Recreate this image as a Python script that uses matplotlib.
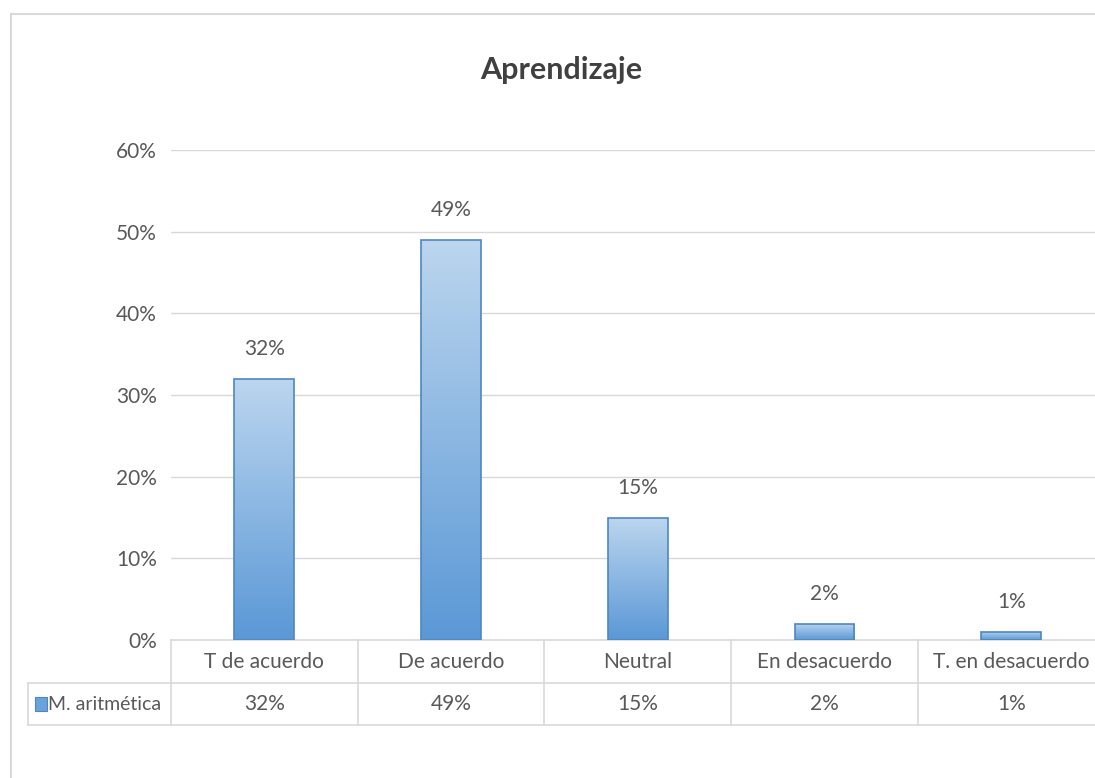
import numpy as np
import matplotlib
matplotlib.use("Agg")
import matplotlib.pyplot as plt
from matplotlib.patches import Rectangle
from matplotlib.lines import Line2D
from matplotlib.colors import LinearSegmentedColormap

categories = ['T de acuerdo', 'De acuerdo', 'Neutral', 'En desacuerdo', 'T. en desacuerdo']
values = [0.32, 0.49, 0.15, 0.02, 0.01]
series_name = 'M. aritmética'
yticks = [0, 0.1, 0.2, 0.3, 0.4, 0.5, 0.6]

plt.rcParams['font.family'] = ['Lato', 'DejaVu Sans']
txt = '#595959'
grid_c = '#d9d9d9'
fs = 15

W, H = 1095, 778
fig = plt.figure(figsize=(W / 100, H / 100), dpi=100)

# outer chart border (only top and left are inside the picture)
fig.lines.append(Line2D([11 / W, 1.05], [1 - 14 / H, 1 - 14 / H], transform=fig.transFigure,
                        color='#d9d9d9', lw=1.5))
fig.lines.append(Line2D([11 / W, 11 / W], [-0.05, 1 - 14 / H], transform=fig.transFigure,
                        color='#d9d9d9', lw=1.5))

# plot area: x from 171 px, one category = 186.7 px; y from 640 (0%) to 150 (60%)
x0, cw = 171, 186.7
ax = fig.add_axes([x0 / W, (H - 640) / H, 5 * cw / W, 490 / H])
ax.patch.set_alpha(0)
for s in ax.spines.values():
    s.set_visible(False)
ax.set_xticks([])
ax.set_yticks(yticks)
ax.set_yticklabels(['%d%%' % round(t * 100) for t in yticks], color=txt, fontsize=fs)
ax.tick_params(axis='y', length=0, pad=10)
for t in yticks[1:]:
    ax.axhline(t, color=grid_c, lw=1, zorder=0)

cmap = LinearSegmentedColormap.from_list('g', ['#5a98d6', '#bcd6ee'])
grad = np.linspace(0, 1, 256).reshape(-1, 1)
bw = 0.32
for i, v in enumerate(values):
    r = Rectangle((i - bw / 2, 0), bw, v, facecolor='none', edgecolor='#4f86c0', lw=1.2, zorder=3)
    ax.add_patch(r)
    im = ax.imshow(grad, cmap=cmap, origin='lower', aspect='auto',
                   extent=(i - bw / 2, i + bw / 2, 0, v), zorder=2)
    im.set_clip_path(r)
    ax.text(i, v + 0.024, '%d%%' % round(v * 100), ha='center', va='bottom',
            fontsize=fs, color=txt)

ax.set_xlim(-0.5, 4.5)
ax.set_ylim(0, 0.6)

# data table under the plot
px = 0.6 / 490
r1, r2 = -43 * px, -85 * px
xl = -0.5 - (171 - 28) / cw
kw = dict(color=grid_c, lw=1.2, clip_on=False, zorder=1)
ax.plot([-0.5, 4.6], [0, 0], **kw)
ax.plot([xl, 4.6], [r1, r1], **kw)
ax.plot([xl, 4.6], [r2, r2], **kw)
ax.plot([xl, xl], [r1, r2], **kw)
for b in range(5):
    ax.plot([b - 0.5, b - 0.5], [0, r2], **kw)
for i, (c, v) in enumerate(zip(categories, values)):
    ax.text(i, r1 / 2, c, ha='center', va='center', fontsize=fs, color=txt, clip_on=False)
    ax.text(i, (r1 + r2) / 2, '%d%%' % round(v * 100), ha='center', va='center',
            fontsize=fs, color=txt, clip_on=False)
ax.add_patch(Rectangle((xl + 0.035, (r1 + r2) / 2 - 0.009), 0.065, 0.018,
                       facecolor='#6aa3db', edgecolor='#4f86c0', lw=0.8, clip_on=False))
ax.text(xl + 0.105, (r1 + r2) / 2, series_name, ha='left', va='center',
        fontsize=14, color=txt, clip_on=False)

fig.text(561 / W, 1 - 70 / H, 'Aprendizaje',
         ha='center', va='center', fontsize=22, fontweight='bold', color='#404040')

fig.savefig('out.png', dpi=100)
